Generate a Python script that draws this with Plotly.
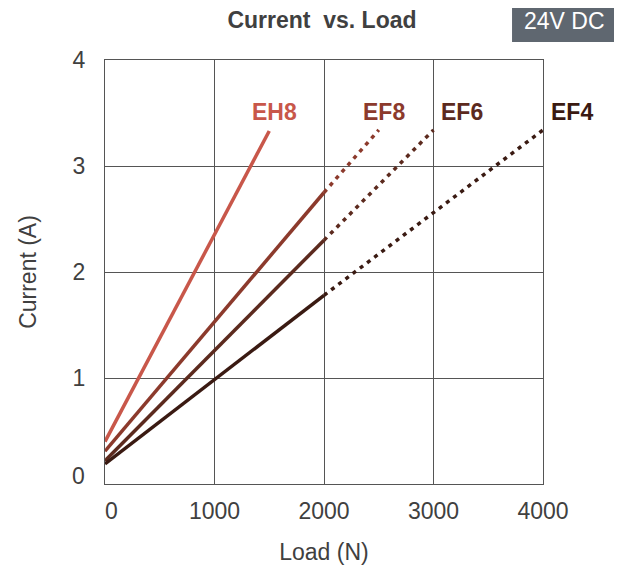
import plotly.graph_objects as go

series_names = ["EH8", "EF8", "EF6", "EF4"]
series_colors = ["#c8574a", "#8c3a2c", "#5c2a1e", "#3a1a12"]
# solid (measured) part: load (N) and current (A)
solid_load = [[0, 1500], [0, 2000], [0, 2000], [0, 2000]]
solid_current = [[0.40, 3.33], [0.31, 2.75], [0.22, 2.30], [0.19, 1.78]]
# dotted (extrapolated) part
dotted_load = [[], [2000, 2500], [2000, 3000], [2000, 4000]]
dotted_current = [[], [2.75, 3.34], [2.30, 3.34], [1.78, 3.34]]
label_load = [1546, 2548, 3260, 4264]
label_current = 3.51

x_ticks = [0, 1000, 2000, 3000, 4000]
y_ticks = [0, 1, 2, 3, 4]
x_max = 4000
y_max = 4

font = "Liberation Sans, Arial, sans-serif"
txt = "#404040"
grid = "#555555"
fs = 23

fig = go.Figure()
for i, name in enumerate(series_names):
    fig.add_trace(go.Scatter(x=solid_load[i], y=solid_current[i], mode="lines",
                             line=dict(color=series_colors[i], width=3.5),
                             showlegend=False, hoverinfo="skip"))
    if dotted_load[i]:
        fig.add_trace(go.Scatter(x=dotted_load[i], y=dotted_current[i], mode="lines",
                                 line=dict(color=series_colors[i], width=3.5, dash="4px,5px"),
                                 showlegend=False, hoverinfo="skip"))
    fig.add_annotation(x=label_load[i] / x_max, y=label_current / y_max,
                       xref="paper", yref="paper", xanchor="center", yanchor="middle",
                       text="<b>%s</b>" % name, showarrow=False,
                       font=dict(family=font, size=fs, color=series_colors[i]))

# "24V DC" badge in the top-right corner
fig.add_shape(type="rect", xref="paper", yref="paper",
              x0=0.9293, x1=1.19, y0=1.0425, y1=1.16,
              fillcolor="#5f6770", line=dict(width=0), layer="above")
fig.add_annotation(x=1.0502, y=1.092, xref="paper", yref="paper",
                   xanchor="center", yanchor="middle",
                   text="24V DC", showarrow=False,
                   font=dict(family=font, size=fs, color="white"))

# y-axis "0" label sits a little above the corner
fig.add_annotation(x=0, y=y_ticks[0] / y_max, xref="paper", yref="paper",
                   xanchor="right", yanchor="middle", xshift=-18, yshift=8,
                   text=str(y_ticks[0]), showarrow=False,
                   font=dict(family=font, size=fs, color=txt))

fig.update_layout(
    width=614, height=559,
    margin=dict(l=96.5, r=79, t=52, b=83, autoexpand=False),
    paper_bgcolor="white", plot_bgcolor="white",
    title=dict(text="<b>Current\u00a0\u00a0vs. Load</b>", x=0.5114, xanchor="center",
               y=0.9785, yanchor="middle",
               font=dict(family=font, size=fs, color=txt)),
    font=dict(family=font, size=fs, color=txt),
)
fig.update_xaxes(range=[0, x_max], tickvals=x_ticks,
                 ticktext=["\u00a0\u00a00"] + [str(v) for v in x_ticks[1:]],
                 showgrid=True, gridcolor=grid, gridwidth=1.3,
                 showline=True, linecolor=grid, linewidth=1.3, mirror=True,
                 zeroline=False, ticks="", ticklabelstandoff=6, automargin=False,
                 title=dict(text="Load (N)", font=dict(size=fs, color=txt), standoff=21),
                 tickfont=dict(size=fs, color=txt))
fig.update_yaxes(range=[0, y_max], tickvals=y_ticks,
                 ticktext=[""] + [str(v) for v in y_ticks[1:]],
                 showgrid=True, gridcolor=grid, gridwidth=1.3,
                 showline=True, linecolor=grid, linewidth=1.3, mirror=True,
                 zeroline=False, ticks="", ticklabelstandoff=14, automargin=False,
                 title=dict(text="Current (A)", font=dict(size=fs, color=txt), standoff=29),
                 tickfont=dict(size=fs, color=txt))

fig.write_html("out.html")
